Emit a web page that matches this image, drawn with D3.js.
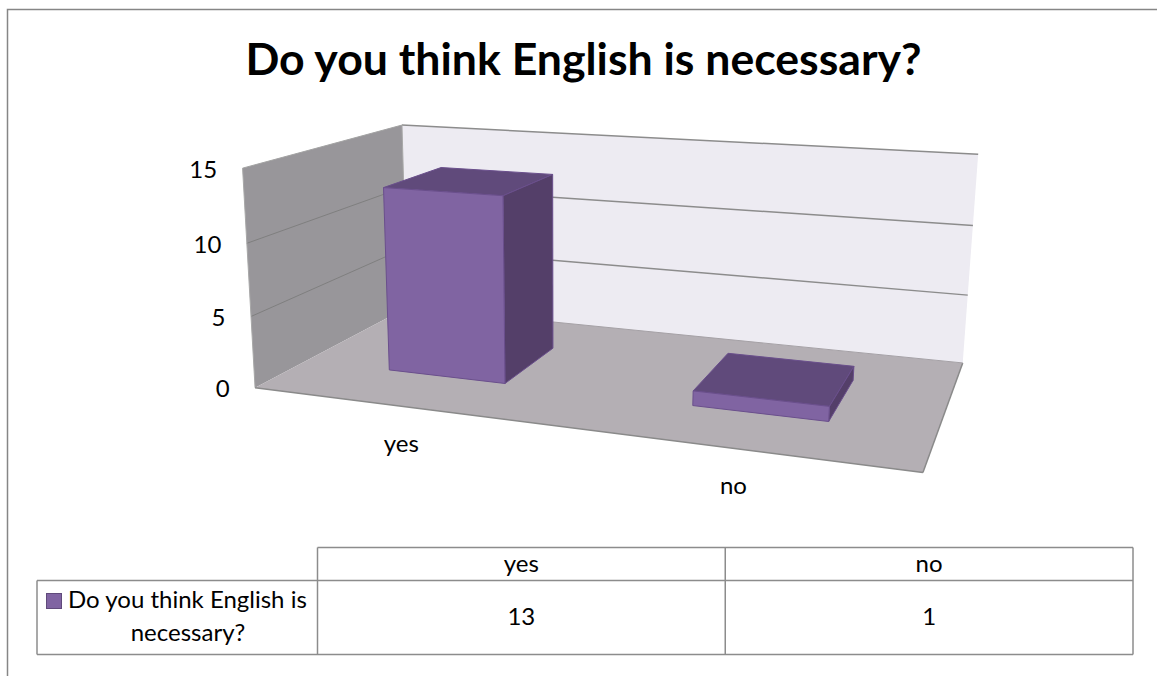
<!DOCTYPE html>
<html>
<head>
<meta charset="utf-8">
<script src="https://cdn.jsdelivr.net/npm/d3@7"></script>
<style>
  html, body { margin: 0; padding: 0; background: #fff; }
  svg { display: block; }
  text { font-family: Lato, "Open Sans", sans-serif; fill: #000; }
</style>
</head>
<body>
<script>
// Chart data
const chartTitle = "Do you think English is necessary?";
const categories = ["yes", "no"];
const seriesName = ["Do you think English is", "necessary?"];
const seriesValues = [13, 1];
const valueTicks = [0, 5, 10, 15];

const width = 1157, height = 676;
const labelSize = 24;
const svg = d3.select("body").append("svg").attr("width", width).attr("height", height);

// Camera calibration: box coordinates [u, depth, height] in 0..1 and where they land on the page.
const cameraAnchors = [
  [0, 0, 0, 256.7, 387.7], [1, 0, 0, 922.7, 473.3], [0, 1, 0, 405, 308], [1, 1, 0, 963.3, 361.7],
  [0, 0, 1, 240.5, 168], [0, 1, 1, 404, 125], [1, 1, 1, 977.7, 154.3],
  [0, 0, 1/3, 251.7, 316], [0, 0, 2/3, 246.7, 243.3],
  [1, 1, 1/3, 968, 295.3], [1, 1, 2/3, 972.7, 226]
];

// Least-squares fit of an 11-parameter projective camera (normal equations, Gaussian elimination).
function fitCamera(anchors) {
  const rows = [], rhs = [];
  anchors.forEach(([u, d, v, x, y]) => {
    rows.push([u, d, v, 1, 0, 0, 0, 0, -x * u, -x * d, -x * v]); rhs.push(x);
    rows.push([0, 0, 0, 0, u, d, v, 1, -y * u, -y * d, -y * v]); rhs.push(y);
  });
  const n = 11;
  const A = d3.range(n).map(i => d3.range(n + 1).map(j =>
    j < n ? d3.sum(rows, r => r[i] * r[j]) : d3.sum(rows, (r, k) => r[i] * rhs[k])));
  for (let c = 0; c < n; c++) {
    let best = c;
    for (let r = c + 1; r < n; r++) if (Math.abs(A[r][c]) > Math.abs(A[best][c])) best = r;
    [A[c], A[best]] = [A[best], A[c]];
    for (let r = 0; r < n; r++) {
      if (r === c) continue;
      const f = A[r][c] / A[c][c];
      for (let j = c; j <= n; j++) A[r][j] -= f * A[c][j];
    }
  }
  return A.map((row, i) => row[n] / row[i]);
}
const cam = fitCamera(cameraAnchors);
function project(u, d, v) {
  const w = cam[8] * u + cam[9] * d + cam[10] * v + 1;
  return [(cam[0] * u + cam[1] * d + cam[2] * v + cam[3]) / w,
          (cam[4] * u + cam[5] * d + cam[6] * v + cam[7]) / w];
}

// Scales into box coordinates
const uScale = d3.scaleBand().domain(categories).range([0, 1]).paddingInner(0.6).paddingOuter(0.3);
const vScale = d3.scaleLinear().domain([0, 15]).range([0, 1]);
const depthRange = [0.3, 0.7];

const poly = pts => "M" + pts.map(p => project(...p).map(n => n.toFixed(2)).join(",")).join("L") + "Z";
const seg = (a, b) => "M" + project(...a).join(",") + "L" + project(...b).join(",");
const plot = svg.append("g");

// Walls and floor
plot.append("path").attr("d", poly([[0,1,0],[1,1,0],[1,1,1],[0,1,1]])).attr("fill", "#edebf2");
plot.append("path").attr("d", poly([[0,0,0],[0,1,0],[0,1,1],[0,0,1]])).attr("fill", "#98969a");

// Gridlines run along the left wall and then the back wall
valueTicks.filter(t => t > 0).forEach(t => {
  const v = vScale(t);
  plot.append("path").attr("d", seg([0,0,v],[0,1,v])).attr("stroke", t === 15 ? "#a3a3a3" : "#7f7f7f")
    .attr("stroke-width", 1).attr("fill", "none");
  plot.append("path").attr("d", seg([0,1,v],[1,1,v])).attr("stroke", "#8c8c8c")
    .attr("stroke-width", 1.5).attr("fill", "none");
});
plot.append("path").attr("d", seg([0,0,0],[0,0,1])).attr("stroke", "#a8a8a8").attr("fill", "none");
plot.append("path").attr("d", seg([0,1,0],[0,1,1])).attr("stroke", "#a8a8a8").attr("fill", "none");

plot.append("path").attr("d", poly([[0,0,0],[1,0,0],[1,1,0],[0,1,0]])).attr("fill", "#b4afb4");
plot.append("path").attr("d", seg([0,0,0],[1,0,0])).attr("stroke", "#8a8a8a").attr("stroke-width", 1.5).attr("fill", "none");
plot.append("path").attr("d", seg([1,0,0],[1,1,0])).attr("stroke", "#8a8a8a").attr("stroke-width", 1.5).attr("fill", "none");
plot.append("path").attr("d", seg([0,1,0],[1,1,0])).attr("stroke", "#a5a1a6").attr("fill", "none");

// One 3D column per category: top, side, then front face
const bars = plot.selectAll("g.bar").data(categories.map((c, i) => ({ c, value: seriesValues[i] })))
  .join("g").attr("class", "bar");
bars.each(function (b) {
  const g = d3.select(this);
  const u0 = uScale(b.c), u1 = u0 + uScale.bandwidth();
  const [d0, d1] = depthRange;
  const v = vScale(b.value);
  const face = (pts, fill) => g.append("path").attr("d", poly(pts)).attr("fill", fill)
    .attr("stroke", "#6a4f8c").attr("stroke-width", 1).attr("stroke-linejoin", "round");
  face([[u0,d0,v],[u1,d0,v],[u1,d1,v],[u0,d1,v]], "#604a7b");
  face([[u1,d0,0],[u1,d1,0],[u1,d1,v],[u1,d0,v]], "#543f69");
  face([[u0,d0,0],[u1,d0,0],[u1,d0,v],[u0,d0,v]], "#8064a2");
});

// Value axis labels sit to the left of the front wall edge
svg.append("g").selectAll("text").data(valueTicks).join("text")
  .attr("x", t => project(0, 0, vScale(t))[0] - 25.5)
  .attr("y", t => project(0, 0, vScale(t))[1] + 9.5)
  .attr("text-anchor", "end").attr("font-size", labelSize).text(t => t);

// Category labels below the floor
svg.append("g").selectAll("text").data(categories).join("text")
  .attr("x", c => project(uScale(c) + uScale.bandwidth() / 2, 0, 0)[0])
  .attr("y", c => project(uScale(c) + uScale.bandwidth() / 2, 0, 0)[1] + 46)
  .attr("text-anchor", "middle").attr("font-size", labelSize).text(c => c);

// Title
svg.append("text").attr("x", 583.5).attr("y", 75).attr("text-anchor", "middle")
  .attr("font-size", 44.6).attr("font-weight", 700).text(chartTitle);

// Outer chart frame, open on the right and at the bottom
svg.append("path").attr("d", "M7.5,676V9.5H1157").attr("fill", "none").attr("stroke", "#868686").attr("stroke-width", 1.5);

// Data table
const table = { left: 37, seriesRight: 317.5, right: 1133, top: 547.5, mid: 580.5, bottom: 654.5 };
const colX = d3.scaleBand().domain(categories).range([table.seriesRight, table.right]);
const tableLines = [
  [table.seriesRight, table.top, table.right, table.top],
  [table.left, table.mid, table.right, table.mid],
  [table.left, table.bottom, table.right, table.bottom],
  [table.left, table.mid, table.left, table.bottom],
  [table.seriesRight, table.top, table.seriesRight, table.bottom],
  [colX("no"), table.top, colX("no"), table.bottom],
  [table.right, table.top, table.right, table.bottom]
];
svg.append("g").selectAll("line").data(tableLines).join("line")
  .attr("x1", d => d[0]).attr("y1", d => d[1]).attr("x2", d => d[2]).attr("y2", d => d[3])
  .attr("stroke", "#8c8c8c").attr("stroke-width", 1.5);

const cellX = c => colX(c) + colX.bandwidth() / 2;
svg.append("g").selectAll("text").data(categories).join("text")
  .attr("x", cellX).attr("y", 572).attr("text-anchor", "middle").attr("font-size", labelSize).text(c => c);
svg.append("g").selectAll("text").data(seriesValues).join("text")
  .attr("x", (d, i) => cellX(categories[i])).attr("y", 625).attr("text-anchor", "middle").attr("font-size", labelSize).text(d => d);

svg.append("rect").attr("x", 46.5).attr("y", 593.5).attr("width", 15).attr("height", 15)
  .attr("fill", "#8064a2").attr("stroke", "#604a7b");
svg.append("text").attr("x", 68).attr("y", 608).attr("font-size", labelSize).text(seriesName[0]);
svg.append("text").attr("x", 188).attr("y", 640.5).attr("text-anchor", "middle").attr("font-size", labelSize).text(seriesName[1]);
</script>
</body>
</html>
